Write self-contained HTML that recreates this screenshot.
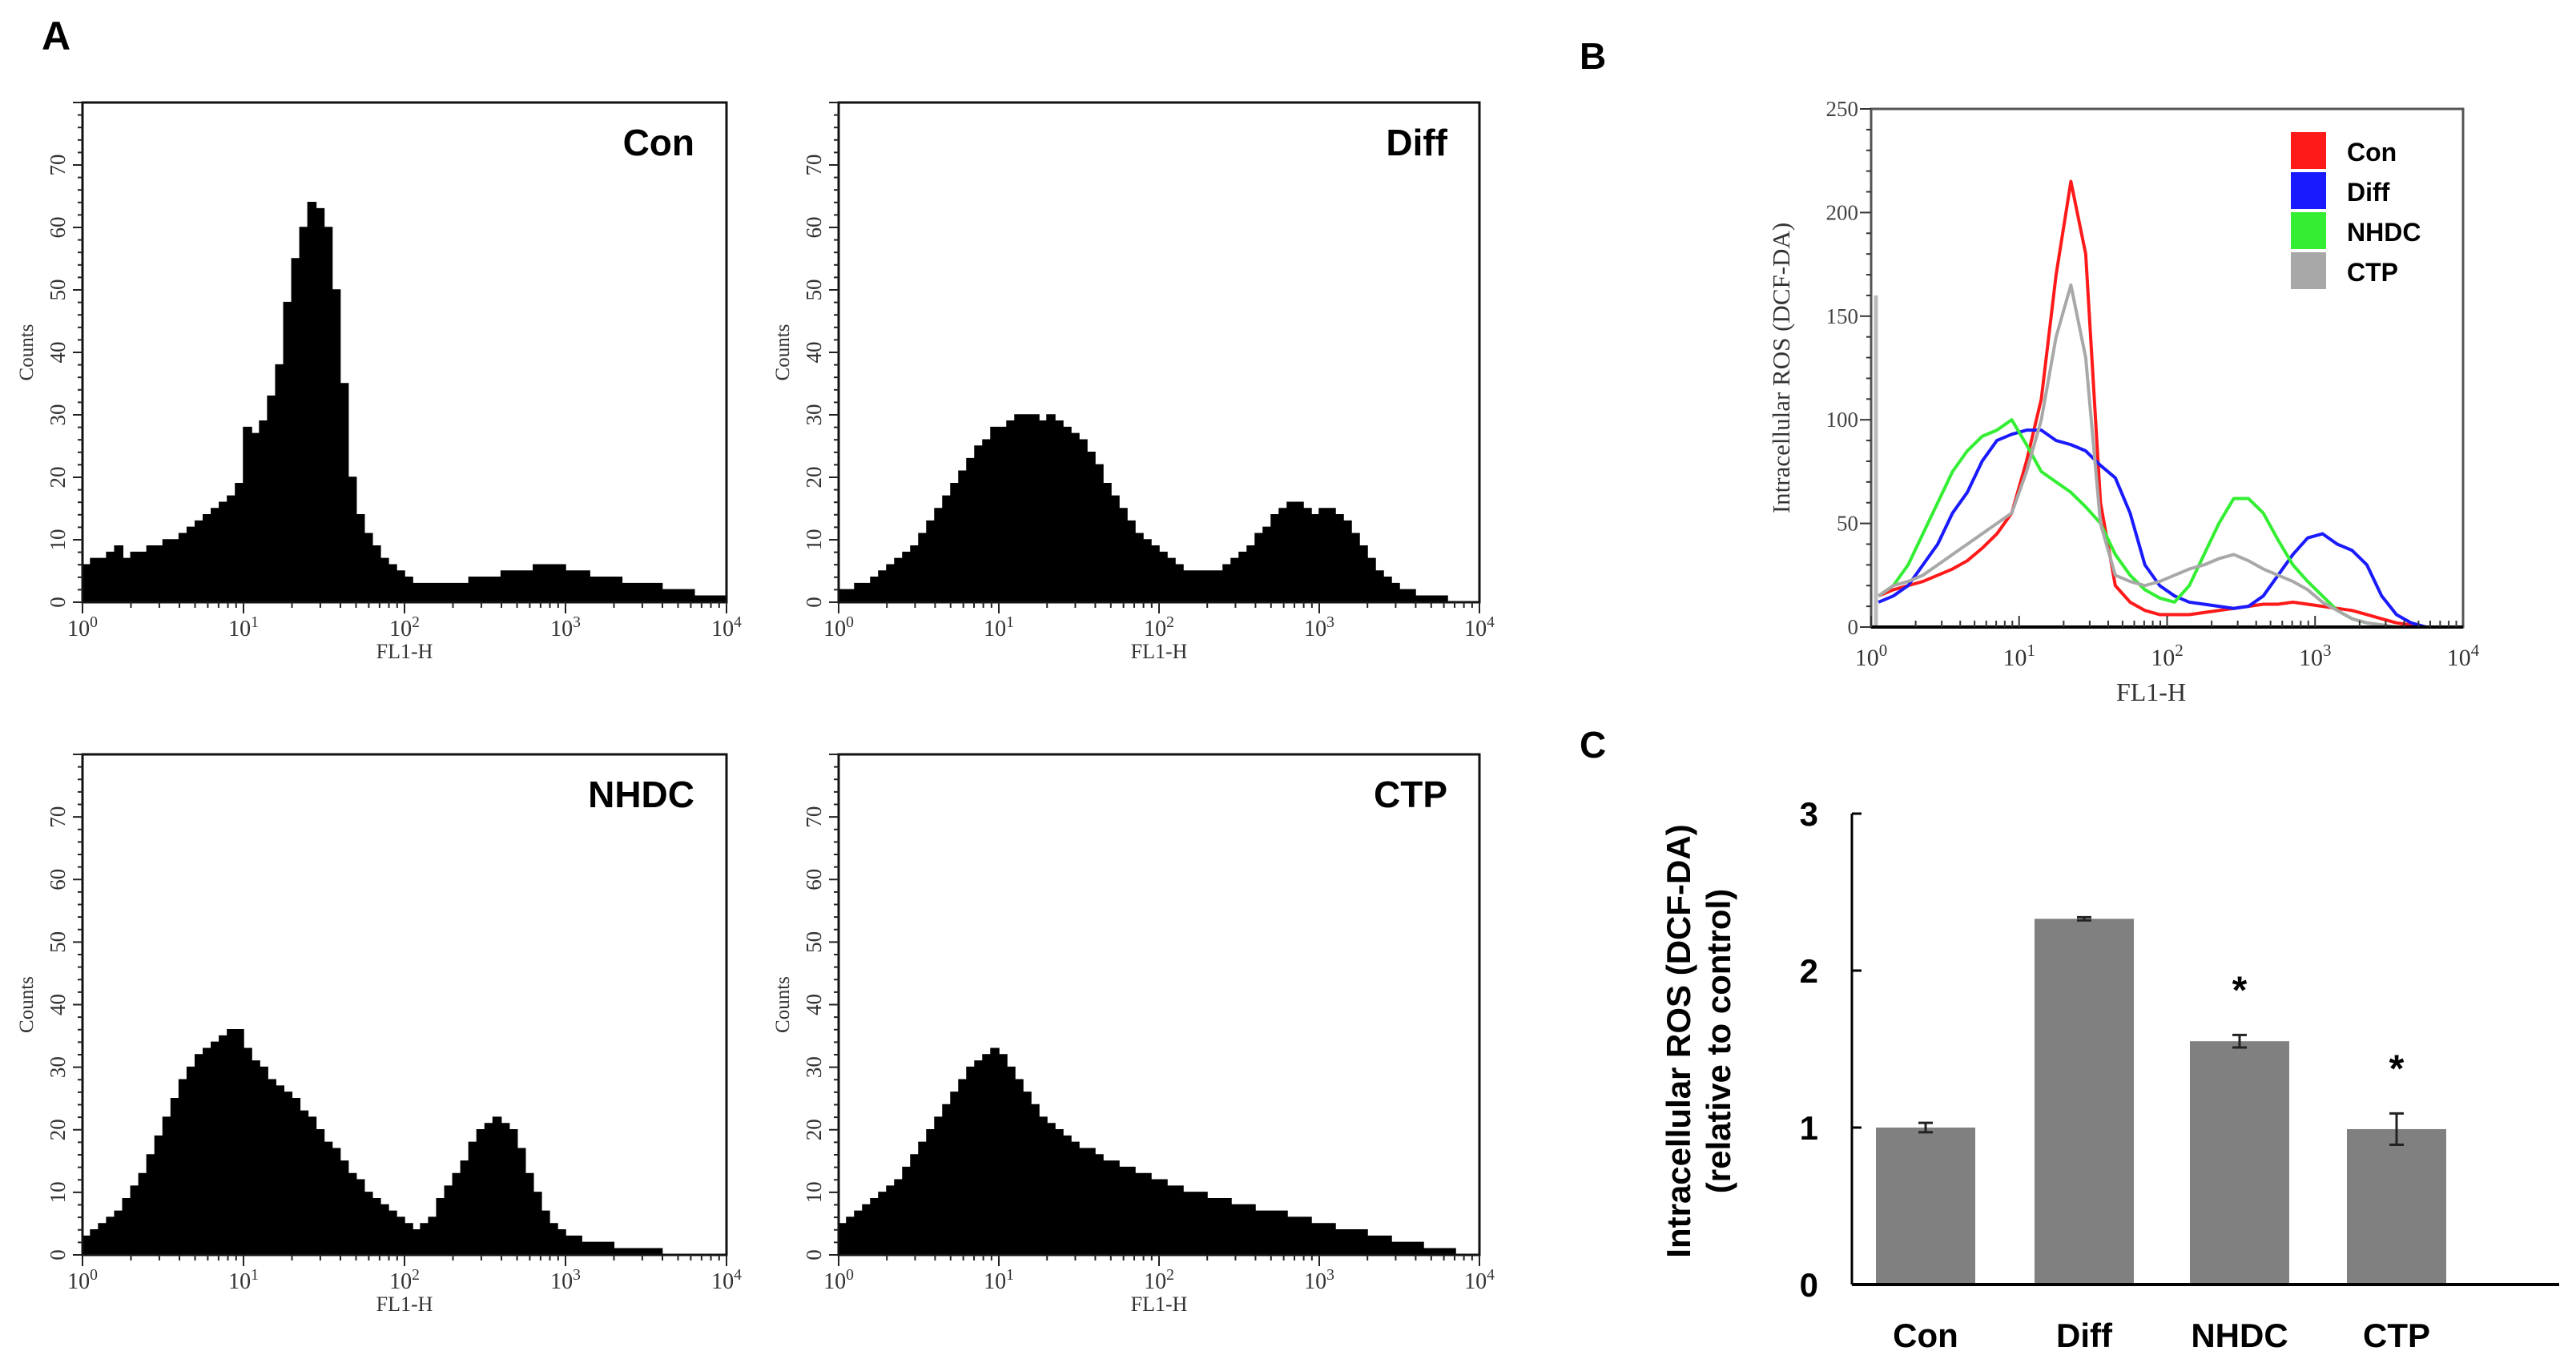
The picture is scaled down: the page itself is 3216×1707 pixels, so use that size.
<!DOCTYPE html>
<html><head><meta charset="utf-8"><style>
html,body{margin:0;padding:0;background:#fff;}
svg{display:block;}
</style></head><body>
<svg id="fig" width="3216" height="1707" viewBox="0 0 3216 1707" xmlns="http://www.w3.org/2000/svg">
<rect width="3216" height="1707" fill="#fff"/>
<text x="52" y="62" font-family="Liberation Sans, sans-serif" font-weight="bold" font-size="50">A</text>
<text x="1972" y="86" font-family="Liberation Sans, sans-serif" font-weight="bold" font-size="46">B</text>
<text x="1972" y="946" font-family="Liberation Sans, sans-serif" font-weight="bold" font-size="46">C</text>
<g id="gA"></g>
<g id="gB"></g>
<g id="gC"></g>
</svg>
<script>
// ---- Panel A data: counts per log bin (20 bins per decade, 10^0..10^4)
const histCon = [6,7,7,8,9,7,8,8,9,9,10,10,11,12,13,14,15,16,17,19,
 28,27,29,33,38,48,55,60,64,63,60,50,35,20,14,11,9,7,6,5,
 4,3,3,3,3,3,3,3,4,4,4,4,5,5,5,5,6,6,6,6,
 5,5,5,4,4,4,4,3,3,3,3,3,2,2,2,2,1,1,1,1];
const histDiff = [2,2,3,3,4,5,6,7,8,9,11,13,15,17,19,21,23,25,26,28,
 28,29,30,30,30,29,30,29,28,27,26,24,22,19,17,15,13,11,10,9,
 8,7,6,5,5,5,5,5,6,7,8,9,11,12,14,15,16,16,15,14,
 15,15,14,13,11,9,7,5,4,3,2,2,1,1,1,1,0,0,0,0];
const histNHDC = [3,4,5,6,7,9,11,13,16,19,22,25,28,30,32,33,34,35,36,36,
 33,31,30,28,27,26,25,23,22,20,18,17,15,13,12,10,9,8,7,6,
 5,4,5,6,9,11,13,15,18,20,21,22,21,20,17,13,10,7,5,4,
 3,3,2,2,2,2,1,1,1,1,1,1,0,0,0,0,0,0,0,0];
const histCTP = [5,6,7,8,9,10,11,12,14,16,18,20,22,24,26,28,30,31,32,33,
 32,30,28,26,24,22,21,20,19,18,17,17,16,15,15,14,14,13,13,12,
 12,11,11,10,10,10,9,9,9,8,8,8,7,7,7,7,6,6,6,5,
 5,5,4,4,4,4,3,3,3,2,2,2,2,1,1,1,1,0,0,0];
const histLabels = ["Con","Diff","NHDC","CTP"];
const countTicks = [0,10,20,30,40,50,60,70];
// ---- Panel B data (10 points per decade)
const ovCon = [15,18,20,22,25,28,32,38,45,55, 80,110,170,215,180,60,20,12,8,6, 6,6,7,8,9,10,11,11,12,11, 10,9,8,6,4,2,1,0,0,0];
const ovDiff = [12,15,20,30,40,55,65,80,90,93, 95,95,90,88,85,78,72,55,30,20, 15,12,11,10,9,10,15,25,35,43, 45,40,37,30,15,6,2,0,0,0];
const ovNHDC = [15,20,30,45,60,75,85,92,95,100, 88,75,70,65,58,50,35,25,18,14, 12,20,35,50,62,62,55,42,30,22, 15,8,4,2,1,0,0,0,0,0];
const ovCTP = [15,20,22,25,30,35,40,45,50,55, 75,100,140,165,130,50,25,22,20,22, 25,28,30,33,35,32,28,25,22,18, 12,8,4,2,1,0,0,0,0,0];
const ovNames = ["Con","Diff","NHDC","CTP"];
const ovColors = ["#ff1a1a","#1a1aff","#33ee33","#a8a8a8"];
const rosTicks = [0,50,100,150,200,250];
// ---- Panel C data
const barCats = ["Con","Diff","NHDC","CTP"];
const barVals = [1.0,2.33,1.55,0.99];
const barErr = [0.03,0.01,0.04,0.10];
const barSig = [false,false,true,true];
const relTicks = [0,1,2,3];

const NS="http://www.w3.org/2000/svg";
function mk(tag,attrs,parent,txt){const e=document.createElementNS(NS,tag);for(const k in attrs)e.setAttribute(k,attrs[k]);if(txt!==undefined)e.textContent=txt;parent.appendChild(e);return e;}
function pow10Label(parent,x,y,exp,fs,fam,fill){
  const t=mk('text',{x:x,y:y,'font-family':fam,'font-size':fs,'text-anchor':'middle',fill:fill},parent);
  mk('tspan',{},t,'10');
  mk('tspan',{dy:-fs*0.4,'font-size':fs*0.7},t,String(exp));
  return t;
}

// ---------- Panel A ----------
const gA=document.getElementById('gA');
const frames=[[103,128,907,752],[1047,128,1847,752],[103,942,907,1567],[1047,942,1847,1567]];
const hists=[histCon,histDiff,histNHDC,histCTP];
const serif="Liberation Serif, serif";
frames.forEach((f,i)=>{
  const [L,T,R,B]=f;
  const g=mk('g',{},gA);
  
  
  const xs=v=>L+(v/4)*(R-L);
  const ys=c=>B-(c/80)*(B-T);
  const data=hists[i];
  const n=data.length;
  let d='M'+xs(0)+','+ys(0);
  data.forEach((c,k)=>{const x0=xs(k*4/n),x1=xs((k+1)*4/n);d+=' L'+x0+','+ys(c)+' L'+x1+','+ys(c);});
  d+=' L'+xs(4)+','+ys(0)+' Z';
  const p=mk('path',{d:d,fill:'#000',stroke:'#000','stroke-width':1.5},g);
  
  
  const fr=mk('rect',{x:L,y:T,width:R-L,height:B-T,fill:'none',stroke:'#111','stroke-width':3},g);
  
  
  for(let c=0;c<=80;c+=2){const major=c%10===0;mk('line',{x1:L-(major?12:6),x2:L,y1:ys(c),y2:ys(c),stroke:'#222','stroke-width':2},g);}
  countTicks.forEach(c=>{
    const t=mk('text',{x:L-22,y:ys(c),'font-family':serif,'font-size':27,'text-anchor':'middle',fill:'#333',transform:'rotate(-90 '+(L-22)+' '+ys(c)+')'},g,String(c));
    
    
  });
  const yt=mk('text',{x:L-62,y:(T+B)/2,'font-family':serif,'font-size':25,'text-anchor':'middle',fill:'#333',transform:'rotate(-90 '+(L-62)+' '+((T+B)/2)+')'},g,'Counts');
  
  
  for(let dd=0;dd<4;dd++){for(let m=1;m<10;m++){const x=xs(dd+Math.log10(m));mk('line',{x1:x,x2:x,y1:B,y2:B+(m===1?14:7),stroke:'#222','stroke-width':2},g);}}
  mk('line',{x1:xs(4),x2:xs(4),y1:B,y2:B+14,stroke:'#222','stroke-width':2},g);
  for(let e=0;e<=4;e++){const t=pow10Label(g,xs(e),B+42,e,28,serif,'#333');}
  const xt=mk('text',{x:(L+R)/2,y:B+70,'font-family':serif,'font-size':26,'text-anchor':'middle',fill:'#333'},g,'FL1-H');
  
  
  const lb=mk('text',{x:R-40,y:T+66,'font-family':'Liberation Sans, sans-serif','font-weight':'bold','font-size':46,'text-anchor':'end'},g,histLabels[i]);
  
  
});

// ---------- Panel B ----------
const gB=document.getElementById('gB');
{
  const L=2336,T=136,R=3075,B=783;
  const xs=v=>L+(v/4)*(R-L);
  const ys=c=>B-(c/250)*(B-T);
  const fr=mk('rect',{x:L,y:T,width:R-L,height:B-T,fill:'none',stroke:'#555','stroke-width':3},gB);
  
  
  mk('line',{x1:L+6,x2:L+6,y1:B,y2:ys(160),stroke:'#bbb','stroke-width':5},gB);
  [ovCon,ovDiff,ovNHDC,ovCTP].forEach((s,i)=>{
    const n=s.length;
    const pts=s.map((v,k)=>xs((k+0.5)*4/n)+','+ys(v)).join(' ');
    const pl=mk('polyline',{points:pts,fill:'none',stroke:ovColors[i],'stroke-width':4,'stroke-linejoin':'round'},gB);
    
    
  });
  mk('line',{x1:L,x2:R,y1:B,y2:B,stroke:'#000','stroke-width':4},gB);
  for(let c=0;c<=250;c+=10){const major=c%50===0;mk('line',{x1:L-(major?14:6),x2:L,y1:ys(c),y2:ys(c),stroke:'#333','stroke-width':2},gB);}
  rosTicks.forEach(c=>{const t=mk('text',{x:L-16,y:ys(c)+9,'font-family':serif,'font-size':27,'text-anchor':'end',fill:'#444'},gB,String(c));});
  const yt=mk('text',{x:2234,y:(T+B)/2,'font-family':serif,'font-size':31,'text-anchor':'middle',fill:'#333',transform:'rotate(-90 2234 '+((T+B)/2)+')'},gB,'Intracellular ROS (DCF-DA)');
  
  
  for(let dd=0;dd<4;dd++){for(let m=1;m<10;m++){const x=xs(dd+Math.log10(m));mk('line',{x1:x,x2:x,y1:B,y2:B-(m===1?14:8),stroke:'#333','stroke-width':2},gB);}}
  for(let e=0;e<=4;e++){const t=pow10Label(gB,xs(e),B+48,e,30,serif,'#333');}
  const xt=mk('text',{x:(L+R)/2-20,y:B+92,'font-family':serif,'font-size':32,'text-anchor':'middle',fill:'#333'},gB,'FL1-H');
  
  
  ovNames.forEach((nm,i)=>{
    const y=165+i*50;
    const g=mk('g',{},gB);
    
    
    mk('rect',{x:2860,y:y,width:44,height:46,fill:ovColors[i]},g);
    mk('text',{x:2930,y:y+36,'font-family':'Liberation Sans, sans-serif','font-weight':'bold','font-size':32},g,nm);
  });
}

// ---------- Panel C ----------
const gC=document.getElementById('gC');
{
  const L=2312,R=3195,B=1604,T=1016;
  const ys=v=>B-(v/3)*(B-T);
  const centers=[2404,2602,2796,2992];
  const bw=124;
  barVals.forEach((v,i)=>{
    const r=mk('rect',{x:centers[i]-bw/2,y:ys(v),width:bw,height:B-ys(v),fill:'#808080'},gC);
    
    
    const e=barErr[i];
    const eg=mk('g',{stroke:'#222','stroke-width':3},gC);
    
    
    mk('line',{x1:centers[i],x2:centers[i],y1:ys(v+e),y2:ys(v-e)},eg);
    mk('line',{x1:centers[i]-9,x2:centers[i]+9,y1:ys(v+e),y2:ys(v+e)},eg);
    mk('line',{x1:centers[i]-9,x2:centers[i]+9,y1:ys(v-e),y2:ys(v-e)},eg);
    if(barSig[i]){const s=mk('text',{x:centers[i],y:ys(v+e)-40,'font-family':'Liberation Sans, sans-serif','font-weight':'bold','font-size':48,'text-anchor':'middle'},gC,'*');}
    const t=mk('text',{x:centers[i],y:1682,'font-family':'Liberation Sans, sans-serif','font-weight':'bold','font-size':42,'text-anchor':'middle'},gC,barCats[i]);
    
    
  });
  mk('line',{x1:L,x2:L,y1:T,y2:B,stroke:'#000','stroke-width':3},gC);
  mk('line',{x1:L,x2:R,y1:B,y2:B,stroke:'#000','stroke-width':4},gC);
  relTicks.forEach(v=>{
    mk('line',{x1:L,x2:L+12,y1:ys(v),y2:ys(v),stroke:'#000','stroke-width':3},gC);
    const t=mk('text',{x:L-42,y:ys(v)+15,'font-family':'Liberation Sans, sans-serif','font-weight':'bold','font-size':42,'text-anchor':'end'},gC,String(v));
    
    
  });
  const cy=1300;
  const t1=mk('text',{x:2110,y:cy,'font-family':'Liberation Sans, sans-serif','font-weight':'bold','font-size':42,'text-anchor':'middle',transform:'rotate(-90 2110 '+cy+')'},gC,'Intracellular ROS (DCF-DA)');
  
  
  const t2=mk('text',{x:2160,y:cy,'font-family':'Liberation Sans, sans-serif','font-weight':'bold','font-size':42,'text-anchor':'middle',transform:'rotate(-90 2160 '+cy+')'},gC,'(relative to control)');
  
  
}
</script>
</body></html>
